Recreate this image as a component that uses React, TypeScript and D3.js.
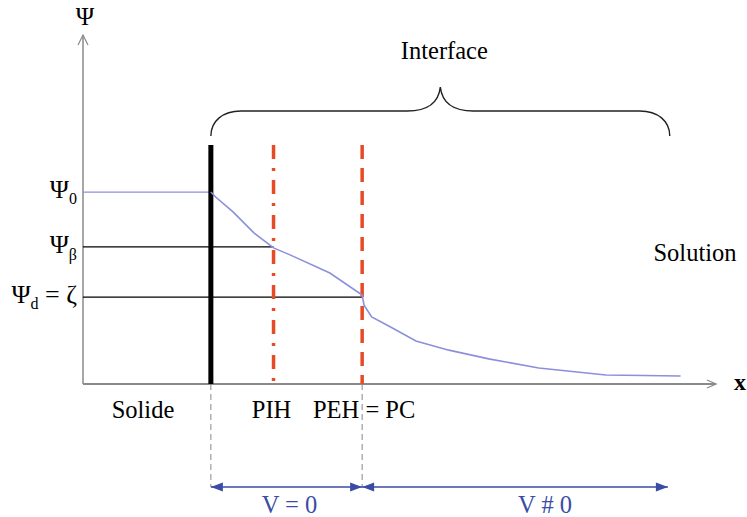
import React from "react";
import * as d3 from "d3";

// conceptual units: x = distance from the surface, psi = potential
const plane = [
  { name: "wall", x: 20.2 },
  { name: "PIH", x: 30.1 },
  { name: "PEH", x: 44.1 },
];

const psiLevels = [
  { key: "0", psi: 55.0 },
  { key: "beta", psi: 39.3 },
  { key: "d", psi: 24.9 },
];

// potential profile
const profileX = [20.2, 21.0, 23.7, 27.0, 30.1, 32.7, 39.0, 44.1, 44.4, 45.6, 48.3, 52.6, 57.8, 64.1, 72.0, 82.6, 94.4];
const profilePsi = [55.0, 53.5, 49.3, 43.3, 39.0, 37.0, 31.8, 25.5, 22.6, 19.2, 16.6, 12.3, 9.7, 7.2, 4.6, 2.6, 2.3];

const braceFrom = 20.2;
const braceTo = 92.7;
const zoneEnd = 92.4;

const width = 747;
const height = 517;
const margin = { left: 83, right: 31, top: 35, bottom: 133 };

const serif = "Liberation Serif";
const curveColor = "#8c8fdc";
const red = "#e64a26";
const blue = "#3a4ca6";
const axisGray = "#8a8a8a";

function Label(props: { x: number; y: number; size?: number; anchor?: string; fill?: string; bold?: boolean; children: React.ReactNode }) {
  return (
    <text x={props.x} y={props.y} fontSize={props.size ?? 24.5} textAnchor={props.anchor ?? "middle"}
      fill={props.fill ?? "#000"} fontWeight={props.bold ? "bold" : "normal"}
      fontFamily={serif} style={{ fontFamily: `"${serif}"` }}>
      {props.children}
    </text>
  );
}

export default function App() {
  const x = d3.scaleLinear().domain([0, 100]).range([margin.left, width - margin.right]);
  const y = d3.scaleLinear().domain([0, 100]).range([height - margin.bottom, margin.top]);

  const x0 = x(0);
  const y0 = y(0);
  const planeTop = 145;
  const wallX = x(plane[0].x);
  const pihX = x(plane[1].x);
  const pehX = x(plane[2].x);

  const profile = profileX.map((v, i) => [v, profilePsi[i]] as [number, number]);
  const line = d3.line<[number, number]>()
    .x(d => x(d[0]))
    .y(d => y(d[1]));

  // curly brace above the interface
  const bL = x(braceFrom);
  const bR = x(braceTo);
  const bM = (bL + bR) / 2;
  const bTop = 87;
  const bMid = 111;
  const bEnd = 136;
  const brace = `M${bL},${bEnd} C${bL},${bMid + 10} ${bL + 12},${bMid} ${bL + 30},${bMid}
    L${bM - 33},${bMid} C${bM - 15},${bMid} ${bM - 2},${bMid - 6} ${bM},${bTop}
    C${bM + 2},${bMid - 6} ${bM + 15},${bMid} ${bM + 33},${bMid}
    L${bR - 30},${bMid} C${bR - 12},${bMid} ${bR},${bMid + 10} ${bR},${bEnd}`;

  const arrowY = 487;
  const zoneR = x(zoneEnd);
  const head = (tipX: number, dir: number) =>
    `M${tipX},${arrowY} L${tipX - dir * 12},${arrowY - 4.5} L${tipX - dir * 12},${arrowY + 4.5} Z`;

  const psiLabel = (key: string) => {
    if (key === "0") return <>Ψ<tspan fontSize={16} dy={6}>0</tspan></>;
    if (key === "beta") return <>Ψ<tspan fontSize={16} dy={7}>β</tspan></>;
    return <>Ψ<tspan fontSize={16} dy={6}>d</tspan><tspan dy={-6}> = ζ</tspan></>;
  };

  return (
    <svg width={width} height={height} style={{ position: "absolute", left: 0, top: 0, background: "#fff" }}>
      {/* axes */}
      <line x1={x0} y1={y0} x2={x0} y2={y(100)} stroke={axisGray} strokeWidth={1.5} />
      <path d={`M${x0 - 5},${y(100) + 10} L${x0},${y(100)} L${x0 + 5},${y(100) + 10}`} fill="none" stroke={axisGray} strokeWidth={1.2} />
      <line x1={x0} y1={y0} x2={x(100)} y2={y0} stroke={axisGray} strokeWidth={2.2} />
      <path d={`M${x(100) - 9},${y0 - 4} L${x(100)},${y0} L${x(100) - 9},${y0 + 4}`} fill="none" stroke={axisGray} strokeWidth={1.2} />
      <Label x={x0 + 2} y={25} size={25}>Ψ</Label>
      <Label x={740} y={y0 + 6} size={24} bold>x</Label>

      {/* horizontal potential levels */}
      <line x1={x0} x2={wallX} y1={y(psiLevels[0].psi)} y2={y(psiLevels[0].psi)} stroke={curveColor} strokeWidth={1.3} />
      <line x1={x0} x2={pihX} y1={y(psiLevels[1].psi)} y2={y(psiLevels[1].psi)} stroke="#000" strokeWidth={1.2} />
      <line x1={x0} x2={pehX} y1={y(psiLevels[2].psi)} y2={y(psiLevels[2].psi)} stroke="#000" strokeWidth={1.2} />
      {psiLevels.map(l => (
        <Label key={l.key} x={77} y={y(l.psi) + 6} anchor="end" size={26}>{psiLabel(l.key)}</Label>
      ))}

      {/* planes */}
      <line x1={wallX} x2={wallX} y1={planeTop} y2={y0} stroke="#000" strokeWidth={5} />
      <line x1={pihX} x2={pihX} y1={planeTop} y2={y0} stroke={red} strokeWidth={3.5} strokeDasharray="14,9,3,9" />
      <line x1={pehX} x2={pehX} y1={planeTop} y2={y0} stroke={red} strokeWidth={3.5} strokeDasharray="14,9" />

      {/* potential profile */}
      <path d={line(profile) ?? ""} fill="none" stroke={curveColor} strokeWidth={1.6} />

      {/* brace */}
      <path d={brace} fill="none" stroke="#222" strokeWidth={1.4} />
      <Label x={bM + 4} y={59}>Interface</Label>
      <Label x={695} y={261}>Solution</Label>

      {/* plane labels */}
      <Label x={143} y={418}>Solide</Label>
      <Label x={pihX - 2} y={418}>PIH</Label>
      <Label x={pehX + 2} y={418}>PEH = PC</Label>

      {/* zones */}
      <line x1={wallX} x2={wallX} y1={y0} y2={arrowY} stroke="#888" strokeWidth={1} strokeDasharray="6,4" />
      <line x1={pehX} x2={pehX} y1={y0} y2={arrowY} stroke="#888" strokeWidth={1} strokeDasharray="6,4" />
      <line x1={wallX} x2={zoneR} y1={arrowY} y2={arrowY} stroke={blue} strokeWidth={1.6} />
      <path d={head(wallX, -1)} fill={blue} />
      <path d={head(pehX, 1)} fill={blue} />
      <path d={head(pehX, -1)} fill={blue} />
      <path d={head(zoneR, 1)} fill={blue} />
      <Label x={(wallX + pehX) / 2 + 3} y={513} fill={blue}>V = 0</Label>
      <Label x={(pehX + zoneR) / 2 + 30} y={513} fill={blue}>V # 0</Label>
    </svg>
  );
}
